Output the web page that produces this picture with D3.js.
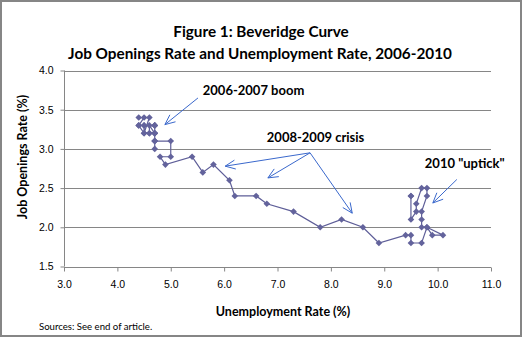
<!DOCTYPE html>
<html>
<head>
<meta charset="utf-8">
<script src="https://cdn.jsdelivr.net/npm/d3@7"></script>
<style>
  body { margin: 0; background: #fff; }
  svg { display: block; }
  .title { font-family: Lato, "Open Sans", sans-serif; font-weight: bold; fill: #000; }
  .tick text { font-family: "Liberation Sans", Arial, sans-serif; font-size: 10.5px; fill: #000; }
</style>
</head>
<body>
<div id="chart"></div>
<script>
// Monthly unemployment rate (%) and job openings rate (%), Jan 2006 - Oct 2010
var unemployment = [
  4.7, 4.7, 4.7, 4.7, 4.6, 4.6, 4.7, 4.7, 4.5, 4.4, 4.5, 4.4,   // 2006
  4.6, 4.5, 4.4, 4.5, 4.5, 4.6, 4.7, 4.7, 4.7, 4.7, 4.7, 5.0,   // 2007
  5.0, 4.8, 4.9, 5.4, 5.6, 5.8, 6.1, 6.2, 6.6, 6.8, 7.3, 7.8,   // 2008
  8.2, 8.6, 8.9, 9.4, 9.5, 9.5, 9.7, 9.8, 10.1, 9.9, 9.8, 9.7,  // 2009
  9.7, 9.7, 9.8, 9.8, 9.7, 9.6, 9.6, 9.5, 9.5, 9.5              // 2010
];
var openings = [
  3.3, 3.2, 3.3, 3.2, 3.3, 3.2, 3.2, 3.3, 3.3, 3.3, 3.4, 3.4,
  3.4, 3.2, 3.3, 3.3, 3.2, 3.2, 3.2, 3.1, 3.0, 3.1, 3.1, 3.1,
  2.9, 2.9, 2.8, 2.9, 2.7, 2.8, 2.6, 2.4, 2.4, 2.3, 2.2, 2.0,
  2.1, 2.0, 1.8, 1.9, 1.9, 1.8, 1.8, 2.0, 1.9, 1.9, 2.0, 2.0,
  2.1, 2.2, 2.4, 2.5, 2.5, 2.3, 2.2, 2.1, 2.4, 2.4
];

var xTicks = [3, 4, 5, 6, 7, 8, 9, 10, 11];
var yTicks = [1.5, 2.0, 2.5, 3.0, 3.5, 4.0];

// annotation labels: text, x, y (data units)
var labelText = ["2006-2007 boom", "2008-2009 crisis", "2010 \"uptick\""];
var labelX = [5.60, 6.80, 9.76];
var labelY = [3.745, 3.145, 2.82];

// arrows: start and tip (data units)
var arrowFromX = [5.51, 7.61, 7.61, 7.61, 10.36];
var arrowFromY = [3.65, 2.95, 2.95, 2.95, 2.61];
var arrowToX = [4.89, 6.02, 6.82, 8.40, 9.91];
var arrowToY = [3.31, 2.78, 2.63, 2.18, 2.31];

var W = 522, H = 337;

var svg = d3.select("#chart").append("svg")
  .attr("width", W)
  .attr("height", H);

// outer frame
svg.append("rect")
  .attr("x", 1).attr("y", 1)
  .attr("width", W - 2).attr("height", H - 2)
  .attr("fill", "#fff")
  .attr("stroke", "#868686")
  .attr("stroke-width", 2);

var x = d3.scaleLinear().domain([3, 11]).range([64, 491]);
var y = d3.scaleLinear().domain([1.5, 4]).range([266.5, 70.5]);

// titles
svg.append("text").attr("class", "title")
  .attr("x", 261).attr("y", 37)
  .attr("text-anchor", "middle")
  .style("font-size", "15.3px")
  .text("Figure 1: Beveridge Curve");
svg.append("text").attr("class", "title")
  .attr("x", 260).attr("y", 58.5)
  .attr("text-anchor", "middle")
  .style("font-size", "15.3px")
  .text("Job Openings Rate and Unemployment Rate, 2006-2010");

// horizontal gridlines
svg.append("g")
  .selectAll("line")
  .data(yTicks.slice(1))
  .enter()
  .append("line")
  .attr("x1", x(3)).attr("x2", x(11))
  .attr("y1", d => Math.round(y(d)) + 0.5)
  .attr("y2", d => Math.round(y(d)) + 0.5)
  .attr("stroke", "#868686");

// x axis
var xAxis = svg.append("g")
  .attr("transform", "translate(0," + (Math.round(y(1.5)) + 0.5) + ")")
  .call(d3.axisBottom(x).tickValues(xTicks).tickSize(4).tickPadding(9)
    .tickFormat(d3.format(".1f")));
xAxis.selectAll("line, path").attr("stroke", "#868686");
xAxis.select(".domain").attr("d", "M" + x(3) + ",0H" + x(11));

// y axis
var yAxis = svg.append("g")
  .attr("transform", "translate(" + (Math.round(x(3)) + 0.5) + ",0)")
  .call(d3.axisLeft(y).tickValues(yTicks).tickSize(4).tickPadding(7)
    .tickFormat(d3.format(".1f")));
yAxis.selectAll("line, path").attr("stroke", "#868686");
yAxis.select(".domain").attr("d", "M0," + y(4) + "V" + y(1.5));

// axis titles
svg.append("text").attr("class", "title")
  .attr("x", 283).attr("y", 316)
  .attr("text-anchor", "middle")
  .style("font-size", "12.5px")
  .text("Unemployment Rate (%)");
svg.append("text").attr("class", "title")
  .attr("transform", "translate(27,157) rotate(-90)")
  .attr("text-anchor", "middle")
  .style("font-size", "12.5px")
  .text("Job Openings Rate (%)");

// source note
svg.append("text")
  .attr("x", 39).attr("y", 330)
  .style("font-family", "Lato, sans-serif")
  .style("font-size", "9.6px")
  .text("Sources: See end of article.");

var points = unemployment.map((u, i) => ({u: u, o: openings[i]}));

// connecting line
var line = d3.line()
  .x(d => x(d.u))
  .y(d => y(d.o));

svg.append("path")
  .datum(points)
  .attr("d", line)
  .attr("fill", "none")
  .attr("stroke", "#5e5e98")
  .attr("stroke-width", 1.2);

// diamond markers
var diamond = d3.symbol().type(d3.symbolDiamond2).size(28);
svg.append("g")
  .selectAll("path")
  .data(points)
  .enter()
  .append("path")
  .attr("transform", d => "translate(" + x(d.u) + "," + y(d.o) + ")")
  .attr("d", diamond)
  .attr("fill", "#63639c");

// annotation arrows
var arrowColor = "#3a68cc";
var arrows = svg.append("g")
  .selectAll("g")
  .data(arrowFromX.map((fx, i) => ({x1: x(fx), y1: y(arrowFromY[i]), x2: x(arrowToX[i]), y2: y(arrowToY[i])})))
  .enter()
  .append("g");

arrows.append("line")
  .attr("x1", d => d.x1).attr("y1", d => d.y1)
  .attr("x2", d => d.x2).attr("y2", d => d.y2)
  .attr("stroke", arrowColor)
  .attr("stroke-width", 1);

arrows.append("path")
  .attr("d", function(d) {
    var a = Math.atan2(d.y1 - d.y2, d.x1 - d.x2);
    var len = 11, spread = 0.42;
    var p1 = [d.x2 + len * Math.cos(a - spread), d.y2 + len * Math.sin(a - spread)];
    var p2 = [d.x2 + len * Math.cos(a + spread), d.y2 + len * Math.sin(a + spread)];
    return "M" + p1 + "L" + d.x2 + "," + d.y2 + "L" + p2;
  })
  .attr("fill", "none")
  .attr("stroke", arrowColor)
  .attr("stroke-width", 1);

// annotation labels
svg.append("g")
  .selectAll("text")
  .data(labelText)
  .enter()
  .append("text")
  .attr("class", "title")
  .attr("x", (d, i) => x(labelX[i]))
  .attr("y", (d, i) => y(labelY[i]))
  .attr("dy", "0.36em")
  .style("font-size", "13px")
  .text(d => d);
</script>
</body>
</html>
